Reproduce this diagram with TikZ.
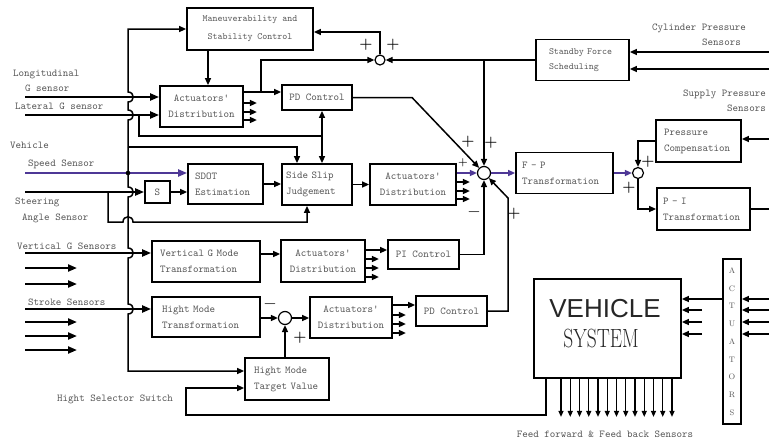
\documentclass[tikz,border=0pt]{standalone}
\usepackage{fontspec}
\usepackage{graphicx}
\usetikzlibrary{arrows.meta,calc}
\newfontfamily\vehsans{Liberation Sans}
\definecolor{bluel}{RGB}{78,56,150}
\definecolor{txt}{RGB}{85,85,85}
\begin{document}
\begin{tikzpicture}[x=1pt,y=-1pt,
  every node/.style={inner sep=0pt},
  box/.style={draw, line width=1.8pt, font=\ttfamily\fontsize{10.5}{16}\selectfont, text=txt, inner ysep=0pt, inner xsep=6pt, align=center},
  lbl/.style={font=\ttfamily\fontsize{10.5}{13}\selectfont, text=txt, inner sep=0pt, anchor=west},
  sgn/.style={font=\bfseries\fontsize{15}{15}\selectfont, inner sep=0pt},
  sumc/.style={circle, draw, line width=1.2pt, fill=white, inner sep=0pt},
  ln/.style={line width=1.5pt},
  arr/.style={ln, -{Triangle[length=7pt,width=6pt]}},
  inarr/.style={line width=2.1pt, -{Triangle[length=9pt,width=7pt]}},
  farr/.style={line width=1.3pt, -{Triangle[length=6pt,width=5pt]}}
]
\fill[white] (0,0) rectangle (769,445);
\useasboundingbox (0,0) rectangle (769,445);

% boxes
\node[box, minimum width=126pt, minimum height=42pt, font=\ttfamily\fontsize{9.5}{18}\selectfont] (man) at (250,29) {Maneuverability and\\Stability Control};
\node[box, minimum width=83pt, minimum height=41pt] (adt) at (201.5,106.5) {Actuators'\\Distribution};
\node[box, minimum width=70pt, minimum height=25pt] (pdt) at (317,97.5) {PD Control};
\node[box, minimum width=93pt, minimum height=41pt, font=\ttfamily\fontsize{9.5}{15}\selectfont, text width=67pt, inner xsep=13pt, align=left] (sfs) at (582.5,60) {Standby Force\\Scheduling};
\node[box, minimum width=85pt, minimum height=42pt, text width=69pt, inner xsep=8pt, align=left] (pc) at (698.5,141) {Pressure\\Compensation};
\node[box, minimum width=97pt, minimum height=41pt, text width=85pt, align=left] (fp) at (564.5,173) {F - P\\Transformation};
\node[box, minimum width=93pt, minimum height=42pt, text width=81pt, align=left] (pit) at (703.5,209) {P - I\\Transformation};
\node[box, minimum width=75pt, minimum height=40pt, text width=61pt, inner xsep=7pt, align=left] (sdot) at (225.5,184) {SDOT\\Estimation};
\node[box, minimum width=25pt, minimum height=22pt, inner xsep=0pt] (sbox) at (157.5,192) {S};
\node[box, minimum width=70pt, minimum height=41pt, text width=62pt, inner xsep=4pt, align=left] (ssj) at (317,184.5) {Side Slip\\Judgement};
\node[box, minimum width=86pt, minimum height=41pt] (adm) at (413,184.5) {Actuators'\\Distribution};
\node[box, minimum width=108pt, minimum height=41pt, text width=92pt, inner xsep=8pt, align=left] (vgm) at (206,261.5) {Vertical G Mode\\Transformation};
\node[box, minimum width=84pt, minimum height=42pt] (ad2) at (323,261) {Actuators'\\Distribution};
\node[box, minimum width=71pt, minimum height=29pt] (pic) at (423.5,254.5) {PI Control};
\node[box, minimum width=108pt, minimum height=40pt, text width=88pt, inner xsep=10pt, align=left] (hmt) at (206,317) {Hight Mode\\Transformation};
\node[box, minimum width=82pt, minimum height=41pt] (adb) at (351,317.5) {Actuators'\\Distribution};
\node[box, minimum width=71pt, minimum height=30pt] (pdb) at (451.5,311) {PD Control};
\node[box, minimum width=84pt, minimum height=42pt, text width=66pt, inner xsep=9pt, align=left] (hmtv) at (287,379) {Hight Mode\\Target Value};
\node[box, minimum width=147pt, minimum height=99pt] (veh) at (607.5,328.5) {};
\node[font=\vehsans\fontsize{26}{26}\selectfont, text=black!85] (vt1) at (605,309) {VEHICLE};
\node[font=\rmfamily\fontsize{19.5}{20}\selectfont, text=black!85] (vt2) at (601,339) {\scalebox{1}[1.35]{SYSTEM}};
\node[box, minimum width=18pt, minimum height=165pt, inner xsep=0pt, font=\rmfamily\fontsize{8}{17.75}\selectfont] (act) at (732,341.5) {A\\C\\T\\U\\A\\T\\O\\R\\S};

% summing junctions
\node[sumc, minimum size=10pt] (sumt) at (380,60) {};
\node[sumc, minimum size=13pt] (summ) at (484,173) {};
\node[sumc, minimum size=11pt] (sump) at (638,173) {};
\node[sumc, minimum size=13pt] (sumh) at (285,318) {};

% free ends
\coordinate (iLong) at (25,97);
\coordinate (iLat) at (25,115);
\coordinate (iSpd) at (25,173);
\coordinate (iSte) at (25,192);
\coordinate (iVer) at (25,253);
\coordinate (iStr) at (25,309);
\coordinate (iCy1) at (769,52);
\coordinate (iCy2) at (769,69);
\coordinate (iSup) at (769,139);
\coordinate (oPI) at (769,209);
\coordinate (bj) at (128,147);
\coordinate (jA) at (322,136);

% left inputs
\draw[inarr] (iLong) -- (adt.west |- iLong);
\draw[inarr] (iLat) -- (adt.west |- iLat);
\draw[inarr, bluel] (iSpd) -- (sdot.west |- iSpd);
\draw[inarr] (iSte) -- (sbox.west);
\draw[inarr] (iVer) -- (vgm.west |- iVer);
\draw[inarr] (iStr) -- (hmt.west |- iStr);
\foreach \yy in {268,284,322,336,350} \draw[inarr] (25,\yy) -- (77,\yy);

% vertical bus
\draw[arr] (bj) -- (128,120) .. controls (135,120) and (135,110) .. (128,110) -- (128,102) .. controls (135,102) and (135,92) .. (128,92) -- (128,29) -- (man.west);
\draw[arr] (bj) -- (128,187) .. controls (135,187) and (135,197) .. (128,197) -- (128,248) .. controls (135,248) and (135,258) .. (128,258) -- (128,304) .. controls (135,304) and (135,314) .. (128,314) -- (128,371) -- (hmtv.west |- 0,371);
\fill (128,173) circle[radius=2.3];
\draw[arr] (bj) -- (297,147) -- (ssj.north -| 297,0);

% lateral G branch
\draw[ln] (139,115) -- (139,136) -- (jA);
\draw[arr] (jA) -- (pdt.south -| jA);
\draw[arr] (jA) -- (ssj.north -| jA);

% steering branch
\draw[arr] (108,192) -- (108,222) -- (123,222) .. controls (123,215) and (133,215) .. (133,222) -- (307,222) -- (ssj.south -| 307,0);

% top part
\draw[arr] (man.south -| 208,0) -- (adt.north -| 208,0);
\foreach \yy in {103,112,120} \draw[arr] (adt.east |- 0,\yy) -- ++(13,0);
\draw[arr] (adt.east |- 0,92) -- (pdt.west |- 0,92);
\draw[arr] (261,92) -- (261,60) -- (sumt);
\draw[arr] (sumt) -- (380,32) -- (man.east |- 0,32);
\draw[arr] (sfs.west) -- (sumt);
\draw[arr] (summ |- sfs.west) -- (summ);
\draw[arr] (iCy1) -- (sfs.east |- iCy1);
\draw[arr] (iCy2) -- (sfs.east |- iCy2);
\draw[arr] (pdt.east) -- (412,97.5) -- (summ);

% middle chain
\draw[arr] (sbox.east) -- (sdot.west |- sbox.east);
\draw[arr] (sdot.east) -- (ssj.west |- sdot.east);
\draw[arr] (ssj.east) -- (adm.west |- ssj.east);
\draw[arr, bluel] (adm.east |- summ) -- (summ);
\foreach \yy in {182,191,199} \draw[arr] (adm.east |- 0,\yy) -- ++(13,0);
\draw[arr, bluel] (summ) -- (fp.west);
\draw[arr, bluel] (fp.east) -- (sump);
\draw[arr] (pc.west) -- (sump |- pc.west) -- (sump);
\draw[arr] (sump) -- (sump |- pit.west) -- (pit.west);
\draw[ln] (pit.east) -- (oPI);
\draw[arr] (iSup) -- (pc.east |- iSup);

% vertical G chain
\draw[arr] (vgm.east |- 0,254) -- (ad2.west |- 0,254);
\draw[arr] (ad2.east |- 0,250) -- (pic.west |- 0,250);
\foreach \yy in {259,268,277} \draw[arr] (ad2.east |- 0,\yy) -- ++(13,0);
\draw[arr] (pic.east) -- (summ |- pic.east) -- (summ);

% height chain
\draw[arr] (hmt.east |- sumh) -- (sumh);
\draw[arr] (sumh) -- (adb.west |- sumh);
\draw[arr] (hmtv.north -| sumh) -- (sumh);
\draw[arr] (adb.east |- 0,305) -- (pdb.west |- 0,305);
\foreach \yy in {315,324,333} \draw[arr] (adb.east |- 0,\yy) -- ++(13,0);
\draw[arr] (pdb.east) -- (508,311) -- (508,198) -- (summ);

% vehicle
\draw[arr] (veh.south -| 546,0) -- (546,415) -- (186,415) -- (186,388) -- (hmtv.west |- 0,388);
\foreach \xx in {0,...,12} {\pgfmathsetmacro\xp{561+9.25*\xx}\draw[farr] (veh.south -| \xp,0) -- ++(0,38);}
\draw[arr] (act.west |- 0,299) -- (veh.east |- 0,299);
\foreach \yy in {310,322,334} \draw[arr] (702,\yy) -- (veh.east |- 0,\yy);
\foreach \yy in {299,310,322,334} \draw[arr] (769,\yy) -- (act.east |- 0,\yy);

% signs
\node[sgn] (p1) at (366,45) {+};
\node[sgn] (p2) at (393,45) {+};
\node[sgn] (p3) at (468,142) {+};
\node[sgn] (p4) at (491,143) {+};
\node[sgn, font=\bfseries\fontsize{11}{11}\selectfont] (p5) at (463,163) {+};
\node[sgn, font=\fontsize{16}{16}\selectfont] (m1) at (474,212) {$-$};
\node[sgn] (p6) at (514,214) {+};
\node[sgn] (p7) at (648,162) {+};
\node[sgn] (p8) at (629,188) {+};
\node[sgn, font=\fontsize{16}{16}\selectfont] (m2) at (270,304) {$-$};
\node[sgn] (p9) at (300,338) {+};

% labels
\node[lbl] (lLong) at (13,74) {Longitudinal};
\node[lbl] (lG) at (25,88) {G sensor};
\node[lbl] (lLat) at (15,106) {Lateral G sensor};
\node[lbl] (lVeh) at (10,145) {Vehicle};
\node[lbl] (lSpd) at (28,164) {Speed Sensor};
\node[lbl] (lSte) at (15,202) {Steering};
\node[lbl] (lAng) at (22,218) {Angle Sensor};
\node[lbl] (lVer) at (17,246) {Vertical G Sensors};
\node[lbl] (lStr) at (28,302) {Stroke Sensors};
\node[lbl] (lHss) at (57,399) {Hight Selector Switch};
\node[lbl] (lCy1) at (652,28) {Cylinder Pressure};
\node[lbl] (lCy2) at (702,42) {Sensors};
\node[lbl] (lSu1) at (683,94) {Supply Pressure};
\node[lbl] (lSu2) at (727,108) {Sensors};
\node[lbl, anchor=center] (lFF) at (605,434) {Feed forward \& Feed back Sensors};
\end{tikzpicture}
\end{document}
